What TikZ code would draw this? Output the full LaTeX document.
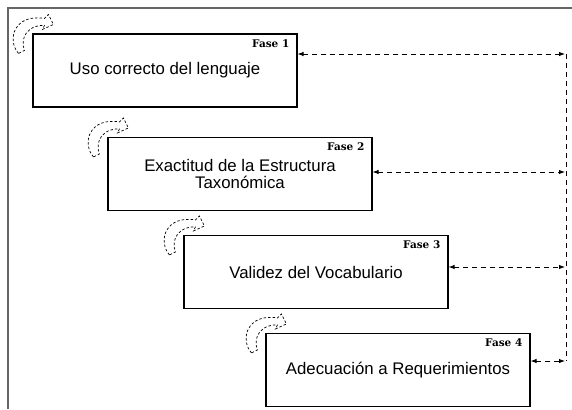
\documentclass[tikz,border=0pt]{standalone}
\usepackage{fontspec}
\newfontfamily\arialfont{Liberation Sans}
\newfontfamily\tagfont{DejaVu Serif}
\usetikzlibrary{positioning, arrows.meta}

\begin{document}
\begin{tikzpicture}[x=1pt, y=-1pt,
  fase/.style = {draw, fill=white, line width=1.1pt, minimum width=264pt, minimum height=73pt, inner sep=0pt, align=center, font=\arialfont\fontsize{16.8}{16.7}\selectfont},
  tag/.style = {anchor=base east, inner sep=0pt, xshift=-8pt, yshift=-14pt, font=\tagfont\bfseries\fontsize{10.5}{10.5}\selectfont},
  link/.style = {dash pattern=on 5pt off 4pt, line width=0.9pt, {Latex[length=6pt,width=4.5pt]}-{Latex[length=6pt,width=4.5pt]}},
  rail/.style = {dash pattern=on 5pt off 4pt, line width=0.9pt},
  curl/.pic = {\draw[dash pattern=on 2.5pt off 2pt, line width=0.7pt] (-14,20) .. controls (-26,6) and (-18,-20) .. (12,-15) -- (16,-19) -- (21,-9) -- (10,-4) -- (12,-8) .. controls (-4,-9) and (-13,4) .. (-8,17) -- cycle;}]
\useasboundingbox (0,0) rectangle (572,409);
\draw[line width=2pt, black!60] (7.5,409) -- (7.5,8.5) -- (572,8.5);

\node[fase] (f1) at (165,70.5) [label={[tag]north east:Fase 1}] {Uso correcto del lenguaje};
\node[fase] (f2) at (240,174) [label={[tag]north east:Fase 2}] {Exactitud de la Estructura\\Taxonómica};
\node[fase] (f3) at (316,272) [label={[tag]north east:Fase 3}] {Validez del Vocabulario};
\node[fase] (f4) at (398,370) [label={[tag]north east:Fase 4}] {Adecuación a Requerimientos};

\pic at (f1.north west) {curl};
\pic at (f2.north west) {curl};
\pic at (f3.north west) {curl};
\pic at (f4.north west) {curl};

\coordinate (r1) at (565,54);
\coordinate (r2) at (565,172);
\coordinate (r3) at (565,267);
\coordinate (r4) at (565,361);

\draw[link] (f1.east |- r1) -- (r1);
\draw[link] (f2.east |- r2) -- (r2);
\draw[link] (f3.east |- r3) -- (r3);
\draw[link] (f4.east |- r4) -- (r4);
\draw[rail] ([xshift=1.5pt]r1) -- ([xshift=1.5pt]r4);

\end{tikzpicture}
\end{document}
